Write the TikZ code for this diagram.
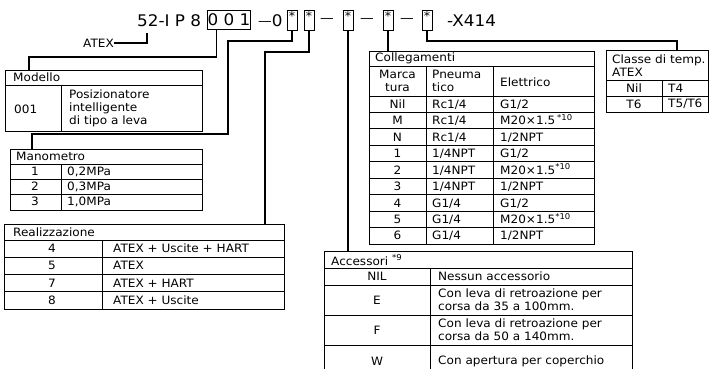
\documentclass[tikz,border=0pt]{standalone}
\usepackage{fontspec}
\setmainfont{DejaVu Sans}[FakeStretch=1.05]
\usetikzlibrary{positioning, calc}

\tikzset{
  tbl/.style={draw, line width=0.8pt, rectangle, anchor=north west, inner sep=0pt},
  lead/.style={line width=1.3pt},
  starbox/.style={draw, line width=0.8pt, minimum width=10pt, minimum height=20pt, inner sep=0pt},
  cell/.style={anchor=west, inner sep=0pt, align=left},
  mid/.style={inner sep=0pt},
  big/.style={font=\fontsize{16}{18}\selectfont}
}

\begin{document}
\begin{tikzpicture}[x=1pt, y=-1pt, font=\fontsize{11.5}{13}\selectfont]
		\clip (0,0) rectangle (709,369);
		% code line
		\node[big, anchor=base west, inner sep=0pt] (code) at (137,27) {52-I P 8};
		\node[big, draw, line width=0.8pt, minimum width=42pt, minimum height=19pt, inner sep=0pt] (b001) at (229,19.5) {0 0 1};
		\node[big, anchor=base west, inner sep=0pt] (dash0) at (258,27) {\raisebox{1.5pt}{\fontsize{13}{13}\selectfont —}0};
		\node[starbox] (s1) at (292,20) {};
		\node[starbox] (s2) at (309,20) {};
		\node[mid, font=\fontsize{13}{13}\selectfont] (d1) at (327,20) {—};
		\node[starbox] (s3) at (348,20) {};
		\node[mid, font=\fontsize{13}{13}\selectfont] (d2) at (367,20) {—};
		\node[starbox] (s4) at (388,20) {};
		\node[mid, font=\fontsize{13}{13}\selectfont] (d3) at (407,20) {—};
		\node[starbox] (s5) at (427,20) {};
		\foreach \s in {s1,s2,s3,s4,s5}
			\node[mid, font=\fontsize{12}{12}\selectfont] at ($(\s.north)+(0,6.5)$) {*};
		\node[big, anchor=base west, inner sep=0pt] (x414) at (447,27) {-X414};
		\node[anchor=east, inner sep=0pt] (atex) at (114,43) {ATEX};

		% Modello
		\node[tbl, minimum width=197pt, minimum height=61pt] (modello) at (5,70) {};
		\draw[line width=0.8pt] (5,85) -- (202,85) (61,85) -- (61,131);
		\node[cell] (modelloH) at (13,77.5) {Modello};
		\node[cell] (m001) at (14,109) {001};
		\node[cell] (m001t) at (69,108) {Posizionatore\\intelligente\\di tipo a leva};

		% Manometro
		\node[tbl, minimum width=192pt, minimum height=61pt] (mano) at (10,149) {};
		\draw[line width=0.8pt] (10,164) -- (202,164) (10,179) -- (202,179) (10,194) -- (202,194) (61,164) -- (61,210);
		\node[cell] (manoH) at (16,156.5) {Manometro};
		\foreach \v/\t [count=\i] in {1/{0,2MPa},2/{0,3MPa},3/{1,0MPa}} {
			\node[mid] (manoK\i) at (35,156.5+15*\i) {\v};
			\node[cell] (manoV\i) at (67,156.5+15*\i) {\t};
		}

		% Realizzazione
		\node[tbl, minimum width=280pt, minimum height=85pt] (real) at (4,224) {};
		\draw[line width=0.8pt] (4,240) -- (284,240) (4,257) -- (284,257) (4,274) -- (284,274) (4,291.5) -- (284,291.5) (102,240) -- (102,309);
		\node[cell] (realH) at (13,232) {Realizzazione};
		\foreach \v/\t [count=\i] in {4/{ATEX + Uscite + HART},5/{ATEX},7/{ATEX + HART},8/{ATEX + Uscite}} {
			\node[mid] (realK\i) at (52,231+17.3*\i) {\v};
			\node[cell] (realV\i) at (113,231+17.3*\i) {\t};
		}

		% Collegamenti
		\node[tbl, minimum width=225pt, minimum height=193pt] (coll) at (369,51) {};
		\draw[line width=0.8pt] (369,66) -- (594,66) (426,66) -- (426,244) (493,66) -- (493,244);
		\foreach \k in {0,...,8}
			\draw[line width=0.8pt] (369,96+16.44*\k) -- (594,96+16.44*\k);
		\node[cell] (collH) at (375,58.5) {Collegamenti};
		\node[mid, align=center] (collA) at (397.5,81) {Marca\\tura};
		\node[cell] (collB) at (432,81) {Pneuma\\tico};
		\node[cell] (collC) at (500,82) {Elettrico};
		\foreach \a/\b/\c [count=\i] in {{Nil}/{Rc1/4}/{G1/2}, {M}/{Rc1/4}/{M20×1.5\,\textsuperscript{*10}}, {N}/{Rc1/4}/{1/2NPT}, {1}/{1/4NPT}/{G1/2}, {2}/{1/4NPT}/{M20×1.5\textsuperscript{*10}}, {3}/{1/4NPT}/{1/2NPT}, {4}/{G1/4}/{G1/2}, {5}/{G1/4}/{M20×1.5\textsuperscript{*10}}, {6}/{G1/4}/{1/2NPT}} {
			\node[mid, anchor=base] (collA\i) at (397.5,96+16.44*\i-4) {\a};
			\node[mid, anchor=base west] (collB\i) at (432,96+16.44*\i-4) {\b};
			\node[mid, anchor=base west] (collC\i) at (500,96+16.44*\i-4) {\c};
		}

		% Classe di temp.
		\node[tbl, minimum width=102pt, minimum height=62pt] (classe) at (606,50) {};
		\draw[line width=0.8pt] (606,80) -- (708,80) (606,96) -- (708,96) (662,80) -- (662,112);
		\node[cell] (classeH) at (612,66) {Classe di temp.\\ATEX};
		\node[mid] (classeK1) at (634,88) {Nil};
		\node[cell] (classeV1) at (668,88) {T4};
		\node[mid] (classeK2) at (634,104) {T6};
		\node[cell] (classeV2) at (668,104) {T5/T6};

		% Accessori
		\node[tbl, minimum width=308pt, minimum height=130pt] (acc) at (324,251) {};
		\draw[line width=0.8pt] (324,268) -- (632,268) (324,285) -- (632,285) (324,315) -- (632,315) (324,345) -- (632,345) (430,268) -- (430,381);
		\node[cell] (accH) at (331,260) {Accessori \textsuperscript{*9}};
		\node[mid] (accK1) at (377,276.5) {NIL};
		\node[cell] (accV1) at (438,276.5) {Nessun accessorio};
		\node[mid] (accK2) at (377,300) {E};
		\node[cell] (accV2) at (438,300) {Con leva di retroazione per\\corsa da 35 a 100mm.};
		\node[mid] (accK3) at (377,330) {F};
		\node[cell] (accV3) at (438,330) {Con leva di retroazione per\\corsa da 50 a 140mm.};
		\node[mid] (accK4) at (377,361) {W};
		\node[cell] (accV4) at (438,361) {Con apertura per coperchio};

		% leader lines
		\coordinate (kA) at (147,33);
		\draw[lead] (kA) |- (atex.east);
		\coordinate (k1) at (29,57);
		\draw[lead] ($(b001.south west)+(9,0)$) |- (k1) -- (k1 |- modello.north);
		\coordinate (k2) at (228,41);
		\coordinate (k3) at (32,134);
		\draw[lead] (s1.south) |- (k2) |- (k3) -- (k3 |- mano.north);
		\coordinate (k4) at (265,52);
		\draw[lead] (s2.south) |- (k4) -- (k4 |- real.north);
		\draw[lead] (s3.south) -- (s3.south |- acc.north);
		\draw[lead] (s4.south) -- (s4.south |- coll.north);
		\coordinate (k5) at (677,41);
		\draw[lead] (s5.south) |- (k5) -- (k5 |- classe.north);
	\end{tikzpicture}
\end{document}
